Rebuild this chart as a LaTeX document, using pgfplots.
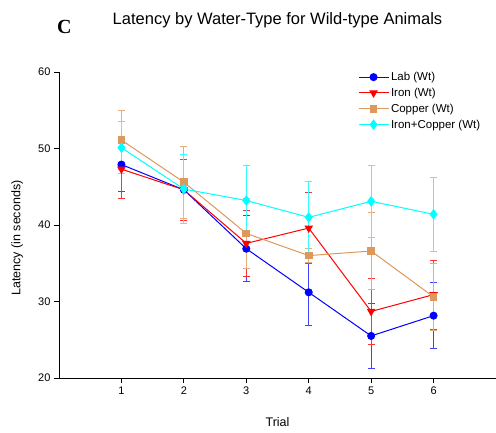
\documentclass[border=0pt]{standalone}
\usepackage{fontspec}
\setmainfont{Liberation Sans}
\newfontfamily\serifbold{Liberation Serif}
\usepackage{pgfplots}
\pgfplotsset{compat=1.18}
\definecolor{copper}{RGB}{221,152,92}
\definecolor{aqua}{RGB}{0,255,255}
\definecolor{pblue}{RGB}{0,0,255}
\definecolor{pred}{RGB}{255,0,0}
\begin{document}
\begin{tikzpicture}[x=1pt,y=1pt]
\useasboundingbox (-59,-54) rectangle (437,378);
\begin{axis}[
  at={(0,0)}, anchor=south west,
  scale only axis, width=437pt, height=306pt,
  xmin=0, xmax=7, ymin=20, ymax=60,
  xtick={1,2,3,4,5,6}, ytick={20,30,40,50,60},
  axis x line*=bottom, axis y line*=left,
  axis line style={-, line width=0.8pt},
  tick align=outside, major tick length=5pt,
  tick style={black, line width=0.8pt},
  tick label style={font=\fontsize{11}{13}\selectfont},
  /pgf/number format/assume math mode=true,
  xlabel={Trial}, ylabel={Latency (in seconds)},
  label style={font=\fontsize{12.5}{14}\selectfont},
  xlabel style={at={(axis description cs:0.5,-0.1438)}, anchor=center},
  ylabel style={at={(axis description cs:-0.096,0.457)}, anchor=center},
  legend style={draw=none, fill=none, at={(rel axis cs:0.677,1.013)}, anchor=north west,
    font=\fontsize{11.5}{13}\selectfont, row sep=2pt},
  legend cell align=left,
  legend image code/.code={\draw[mark repeat=2,mark phase=2] plot coordinates {(0pt,0pt)(15pt,0pt)(30pt,0pt)};},
  clip=false,
]
\draw[line width=0.8pt] (axis cs:0,20) -- ++(-4pt,0pt);
\addplot[pblue, line width=1pt, mark=*, mark size=3.5pt, mark options={solid, fill=pblue},
  error bars/.cd, y dir=both, y explicit,
  error bar style={pblue!75!white, line width=1pt},
  error mark options={rotate=90, pblue!75!white, mark size=3.5pt, line width=1pt}]
  table[x=x, y=y, y error=e] {
x y e
1 47.9 3.5
2 44.6 4.0
3 36.9 4.3
4 31.2 4.4
5 25.5 4.3
6 28.15 4.3
};
\addlegendentry{Lab (Wt)}
\addplot[pred, line width=1pt, mark=triangle*, mark size=4pt, mark options={solid, fill=pred, rotate=180},
  error bars/.cd, y dir=both, y explicit,
  error bar style={pred!80!white, line width=1pt},
  error mark options={rotate=90, pred!80!white, mark size=3.5pt, line width=1pt}]
  table[x=x, y=y, y error=e] {
x y e
1 47.3 3.9
2 44.6 4.0
3 37.6 4.3
4 39.6 4.6
5 28.7 4.3
6 30.9 4.5
};
\addlegendentry{Iron (Wt)}
\addplot[copper, line width=1pt, mark=square*, mark size=3.3pt, mark options={solid, fill=copper},
  error bars/.cd, y dir=both, y explicit,
  error bar style={copper!80!white, line width=1pt},
  error mark options={rotate=90, copper!80!white, mark size=3.5pt, line width=1pt}]
  table[x=x, y=y, y error=e] {
x y e
1 51.1 3.9
2 45.6 4.7
3 38.9 4.6
4 36.0 0.9
5 36.6 5.0
6 30.6 4.4
};
\addlegendentry{Copper (Wt)}
\addplot[aqua, line width=1pt, mark=diamond*, mark size=4.5pt, mark options={solid, fill=aqua},
  error bars/.cd, y dir=both, y explicit,
  error bar style={aqua!80!white, line width=1pt},
  error mark options={rotate=90, aqua!80!white, mark size=3.5pt, line width=1pt}]
  table[x=x, y=y, y error=e] {
x y e
1 50.1 3.4
2 44.7 4.5
3 43.2 4.6
4 41.0 4.75
5 43.1 4.7
6 41.4 4.8
};
\addlegendentry{Iron+Copper (Wt)}
\node[font=\fontsize{16.5}{19}\selectfont] at (axis description cs:0.5,1.169) {Latency by Water-Type for Wild-type Animals};
\node[font=\fontsize{20}{22}\serifbold\bfseries] at (axis description cs:0.012,1.148) {C};
\end{axis}
\end{tikzpicture}
\end{document}
